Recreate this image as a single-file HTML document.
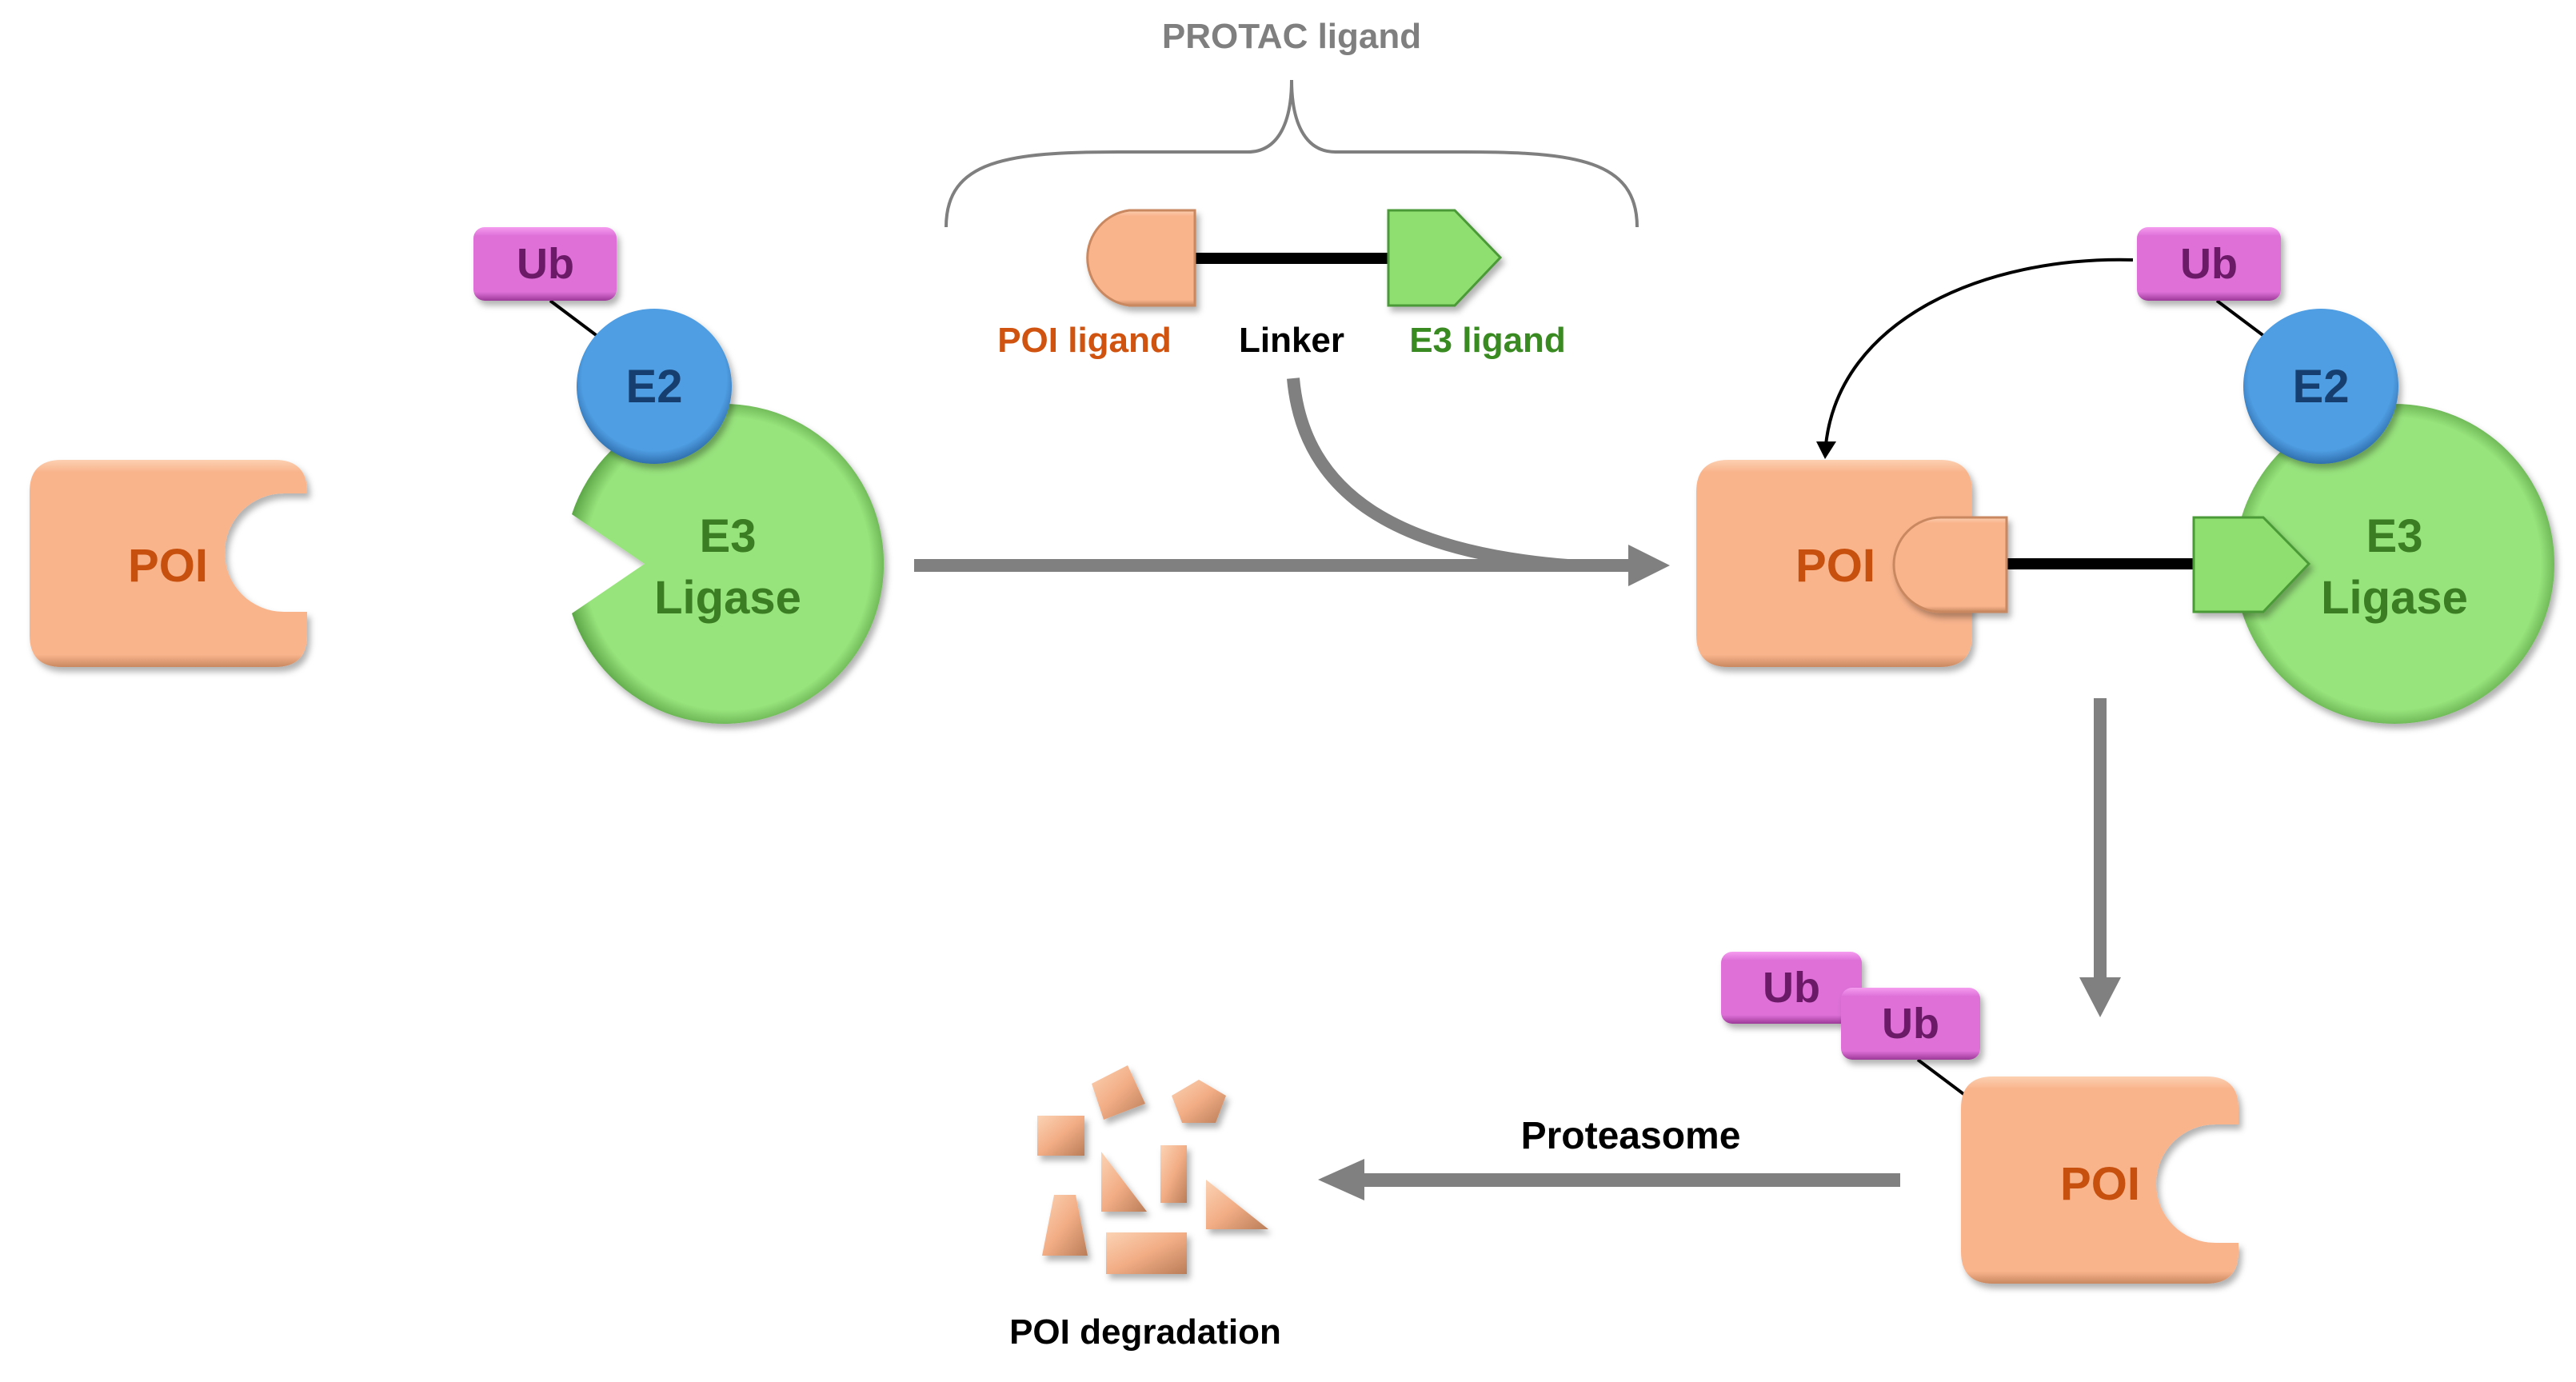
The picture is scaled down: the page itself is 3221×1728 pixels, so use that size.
<!DOCTYPE html>
<html><head><meta charset="utf-8"><style>
html,body{margin:0;padding:0;background:#fff;}
svg{display:block;}
text{font-family:"Liberation Sans",Arial,sans-serif;font-weight:bold;text-anchor:middle;}
</style></head><body>
<svg width="3221" height="1728" viewBox="0 0 3221 1728" xmlns="http://www.w3.org/2000/svg">
<defs>
<filter id="sh" x="-10%" y="-10%" width="130%" height="130%"><feDropShadow dx="4" dy="6" stdDeviation="4" flood-color="#000" flood-opacity="0.3"/></filter>
<linearGradient id="poi" x1="0" y1="0" x2="0" y2="1"><stop offset="0" stop-color="#fcd0b2"/><stop offset="0.06" stop-color="#f9b48c"/><stop offset="0.94" stop-color="#f9b48c"/><stop offset="1" stop-color="#c98860"/></linearGradient>
<linearGradient id="ub" x1="0" y1="0" x2="0" y2="1"><stop offset="0" stop-color="#f59cf0"/><stop offset="0.12" stop-color="#de70d8"/><stop offset="0.88" stop-color="#de70d8"/><stop offset="1" stop-color="#9c3a98"/></linearGradient>
<radialGradient id="e2" cx="0.5" cy="0.45" r="0.55"><stop offset="0.85" stop-color="#4f9de2"/><stop offset="1" stop-color="#2f6fae"/></radialGradient>
<radialGradient id="e3" cx="0.5" cy="0.5" r="0.52"><stop offset="0.88" stop-color="#97e37b"/><stop offset="1" stop-color="#5fa84a"/></radialGradient>
<linearGradient id="frag" x1="0" y1="0" x2="1" y2="1"><stop offset="0" stop-color="#fbd3b5"/><stop offset="0.5" stop-color="#f2ad85"/><stop offset="1" stop-color="#b97d58"/></linearGradient>
</defs>

<!-- Brace -->
<path d="M1183,284 C1183,200 1260,190 1400,190 L1560,190 C1600,190 1615,150 1615,100 C1615,150 1630,190 1670,190 L1830,190 C1970,190 2047,200 2047,284" fill="none" stroke="#7f7f7f" stroke-width="4"/>
<text x="1615" y="60" font-size="44" fill="#7f7f7f">PROTAC ligand</text>

<!-- PROTAC molecule top -->
<rect x="1490" y="316" width="250" height="14" fill="#000"/>
<path d="M1494,263 L1412,263 A60,60 0 0 0 1412,382 L1494,382 Z" fill="url(#poi)" stroke="#c98860" stroke-width="3" filter="url(#sh)"/>
<path d="M1736,263 L1819,263 L1876,322 L1819,382 L1736,382 Z" fill="#8fde6f" stroke="#4c9a38" stroke-width="3" filter="url(#sh)"/>
<text x="1356" y="440" font-size="44" fill="#d0530f">POI ligand</text>
<text x="1615" y="440" font-size="44" fill="#000">Linker</text>
<text x="1860" y="440" font-size="44" fill="#3a8a22">E3 ligand</text>

<!-- Left POI -->
<path d="M77,575 L344,575 Q384,575 384,615 L384,617 L355,617 A74,74 0 0 0 355,765 L384,765 L384,794 Q384,834 344,834 L77,834 Q37,834 37,794 L37,615 Q37,575 77,575 Z" fill="url(#poi)" filter="url(#sh)"/>
<text x="210" y="727" font-size="58" fill="#c8500f">POI</text>

<!-- Left E3 / E2 / Ub -->
<line x1="688" y1="376" x2="760" y2="430" stroke="#000" stroke-width="4"/>
<path d="M715,643 A200,200 0 1 1 715,767 L806,705 Z" fill="url(#e3)" filter="url(#sh)"/>
<circle cx="818" cy="483" r="97" fill="url(#e2)" filter="url(#sh)"/>
<rect x="592" y="284" width="179" height="92" rx="14" fill="url(#ub)" filter="url(#sh)"/>
<text x="682" y="348" font-size="54" fill="#6a1a66">Ub</text>
<text x="818" y="503" font-size="58" fill="#163e6e">E2</text>
<text x="910" y="690" font-size="58" fill="#3a7d22">E3</text>
<text x="910" y="767" font-size="58" fill="#3a7d22">Ligase</text>

<!-- Main horizontal arrow + curved arrow -->
<path d="M1617,473 C1630,620 1750,690 1960,707" fill="none" stroke="#808080" stroke-width="16"/>
<rect x="1143" y="699" width="900" height="16" fill="#808080"/>
<polygon points="2036,681 2088,707 2036,733" fill="#808080"/>

<!-- Right complex -->
<path d="M2161,575 L2426,575 Q2466,575 2466,615 L2466,794 Q2466,834 2426,834 L2161,834 Q2121,834 2121,794 L2121,615 Q2121,575 2161,575 Z" fill="url(#poi)" filter="url(#sh)"/>
<path d="M2466,647 L2438,647 A59,59 0 0 0 2438,765 L2466,765 Z" fill="#fff"/>
<rect x="2505" y="698" width="240" height="14" fill="#000"/>
<path d="M2509,647 L2427,647 A59,59 0 0 0 2427,765 L2509,765 Z" fill="url(#poi)" stroke="#c98860" stroke-width="3" filter="url(#sh)"/>
<text x="2295" y="727" font-size="58" fill="#c8500f">POI</text>
<line x1="2772" y1="376" x2="2844" y2="430" stroke="#000" stroke-width="4"/>
<circle cx="2994" cy="705" r="200" fill="url(#e3)" filter="url(#sh)"/>
<path d="M2743,647 L2830,647 L2887,705 L2830,765 L2743,765 Z" fill="#8fde6f" stroke="#4c9a38" stroke-width="3" filter="url(#sh)"/>
<circle cx="2902" cy="483" r="97" fill="url(#e2)" filter="url(#sh)"/>
<rect x="2672" y="284" width="180" height="92" rx="14" fill="url(#ub)" filter="url(#sh)"/>
<text x="2762" y="348" font-size="54" fill="#6a1a66">Ub</text>
<text x="2902" y="503" font-size="58" fill="#163e6e">E2</text>
<text x="2994" y="690" font-size="58" fill="#3a7d22">E3</text>
<text x="2994" y="767" font-size="58" fill="#3a7d22">Ligase</text>
<!-- black curve arrow -->
<path d="M2667,325 C2480,320 2300,400 2283,556" fill="none" stroke="#000" stroke-width="4"/>
<polygon points="2271,552 2296,552 2282,574" fill="#000"/>

<!-- vertical arrow -->
<rect x="2618" y="873" width="16" height="355" fill="#808080"/>
<polygon points="2600,1222 2652,1222 2626,1272" fill="#808080"/>

<!-- bottom POI -->
<line x1="2398" y1="1325" x2="2462" y2="1373" stroke="#000" stroke-width="4"/>
<path d="M2492,1346 L2759,1346 Q2799,1346 2799,1386 L2799,1406 L2770,1406 A74,74 0 0 0 2770,1554 L2799,1554 L2799,1565 Q2799,1605 2759,1605 L2492,1605 Q2452,1605 2452,1565 L2452,1386 Q2452,1346 2492,1346 Z" fill="url(#poi)" filter="url(#sh)"/>
<text x="2626" y="1500" font-size="58" fill="#c8500f">POI</text>
<rect x="2152" y="1190" width="176" height="90" rx="14" fill="url(#ub)" filter="url(#sh)"/>
<text x="2240" y="1253" font-size="54" fill="#6a1a66">Ub</text>
<rect x="2302" y="1235" width="174" height="90" rx="14" fill="url(#ub)" filter="url(#sh)"/>
<text x="2389" y="1298" font-size="54" fill="#6a1a66">Ub</text>

<!-- proteasome arrow -->
<rect x="1700" y="1467" width="676" height="17" fill="#808080"/>
<polygon points="1706,1449 1706,1501 1648,1475" fill="#808080"/>
<text x="2039" y="1436" font-size="48" fill="#000">Proteasome</text>

<!-- fragments -->
<g fill="url(#frag)" filter="url(#sh)">
<rect x="1297" y="1395" width="59" height="50"/>
<polygon points="1365,1355 1410,1332 1432,1380 1380,1400"/>
<polygon points="1465,1370 1499,1350 1533,1370 1520,1404 1478,1404"/>
<polygon points="1377,1440 1434,1515 1377,1515"/>
<rect x="1451" y="1432" width="33" height="72"/>
<polygon points="1318,1494 1345,1494 1360,1570 1303,1570"/>
<polygon points="1508,1475 1586,1537 1508,1537"/>
<rect x="1383" y="1541" width="101" height="52"/>
</g>
<text x="1432" y="1680" font-size="44" fill="#000">POI degradation</text>
</svg>
</body></html>
